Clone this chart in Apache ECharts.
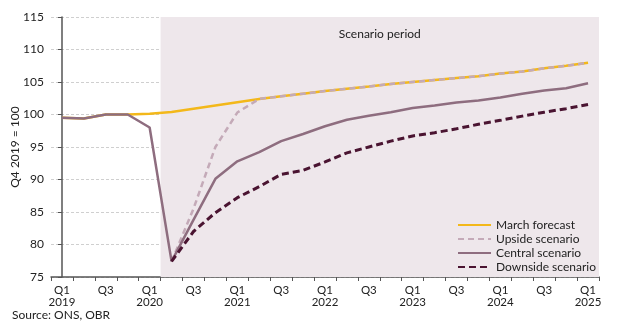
<!DOCTYPE html>
<html>
<head>
<meta charset="utf-8">
<script src="https://cdn.jsdelivr.net/npm/echarts@6/dist/echarts.min.js"></script>
<style>
html,body{margin:0;padding:0;background:#fff;}
#chart{width:634px;height:332px;}
</style>
</head>
<body>
<div id="chart"></div>
<script>
var quarters = ['Q1\n2019','Q2','Q3','Q4','Q1\n2020','Q2','Q3','Q4','Q1\n2021','Q2','Q3','Q4','Q1\n2022','Q2','Q3','Q4','Q1\n2023','Q2','Q3','Q4','Q1\n2024','Q2','Q3','Q4','Q1\n2025'];
var marchForecast = [99.5,99.4,100,100,100.1,100.4,100.9,101.4,101.9,102.4,102.8,103.2,103.6,103.95,104.3,104.7,105.0,105.3,105.6,105.9,106.3,106.6,107.1,107.5,107.95];
var upsideScenario = [null,null,null,null,null,77.4,85.5,95.0,100.3,102.4,102.8,103.2,103.6,103.95,104.3,104.7,105.0,105.3,105.6,105.9,106.3,106.6,107.1,107.5,107.95];
var centralScenario = [99.5,99.4,100,100,98.0,77.4,83.8,90.1,92.8,94.2,95.9,97.0,98.2,99.2,99.8,100.35,101.0,101.4,101.85,102.15,102.6,103.2,103.7,104.05,104.8];
var downsideScenario = [null,null,null,null,null,77.4,82.0,84.9,87.2,88.9,90.8,91.4,92.7,94.1,95.0,95.9,96.7,97.2,97.8,98.5,99.1,99.75,100.35,100.9,101.55];
var seriesNames = ['March forecast','Upside scenario','Central scenario','Downside scenario'];
var yTicks = {min:75, max:115, step:5};
var scenarioStart = 4.5, scenarioEnd = 24.5;

var FONT = 'Lato';
var chart = echarts.init(document.getElementById('chart'));
chart.setOption({
  animation:false,
  backgroundColor:'#ffffff',
  textStyle:{fontFamily:FONT},
  grid:{left:51,right:35,top:17,bottom:55,containLabel:false,outerBoundsMode:'none'},
  legend:{
    orient:'vertical', left:452, top:214,
    itemWidth:33, itemHeight:14, itemGap:2,
    itemStyle:{color:'transparent',borderWidth:0,opacity:0},
    textStyle:{fontFamily:FONT,fontSize:12,color:'#222'},
    data:seriesNames
  },
  xAxis:[{
    type:'category', data:quarters, boundaryGap:true,
    axisLine:{show:true,lineStyle:{color:'#555',width:1.5}},
    axisTick:{show:true,interval:0,length:4,lineStyle:{color:'#555'}},
    axisLabel:{interval:1,color:'#222',fontSize:11.5,margin:7,lineHeight:12,fontFamily:FONT},
    splitLine:{show:false}
  },{
    type:'value', min:-0.5, max:24.5, show:false
  }],
  yAxis:{
    type:'value', min:yTicks.min, max:yTicks.max, interval:yTicks.step,
    name:'Q4 2019 = 100', nameLocation:'middle', nameGap:30, nameRotate:90, nameMoveOverlap:false,
    nameTextStyle:{color:'#222',fontSize:12,fontFamily:FONT},
    axisLine:{show:true,lineStyle:{color:'#555',width:1.5}},
    axisTick:{show:true,length:4,lineStyle:{color:'#555'}},
    axisLabel:{color:'#222',fontSize:12,margin:7,fontFamily:FONT},
    splitLine:{show:true,lineStyle:{color:'#cfcfcf',type:[3,2],width:1}}
  },
  series:[
    {
      name:'scenario', type:'line', xAxisIndex:1, yAxisIndex:0, data:[], silent:true,
      markArea:{
        silent:true,
        itemStyle:{color:'#EEE7EB'},
        label:{show:true,position:'insideTop',distance:11,color:'#222',fontSize:12,fontFamily:FONT},
        data:[[{name:'Scenario period',xAxis:scenarioStart},{xAxis:scenarioEnd}]]
      }
    },
    {name:seriesNames[0],type:'line',data:marchForecast,symbol:'none',z:2,
     lineStyle:{color:'#F3B81A',width:2.5},itemStyle:{color:'#F3B81A'}},
    {name:seriesNames[1],type:'line',data:upsideScenario,symbol:'none',z:3,
     lineStyle:{color:'#C4AAB8',width:2.5,type:[6,4]},itemStyle:{color:'#C4AAB8'}},
    {name:seriesNames[2],type:'line',data:centralScenario,symbol:'none',z:4,
     lineStyle:{color:'#8E6D7F',width:2.5},itemStyle:{color:'#8E6D7F'}},
    {name:seriesNames[3],type:'line',data:downsideScenario,symbol:'none',z:5,
     lineStyle:{color:'#4A1431',width:3,type:[7,4]},itemStyle:{color:'#4A1431'}}
  ],
  graphic:[{
    type:'text', left:12, top:309,
    style:{text:'Source: ONS, OBR',fill:'#222',font:'12px '+FONT}
  }]
});
</script>
</body>
</html>
